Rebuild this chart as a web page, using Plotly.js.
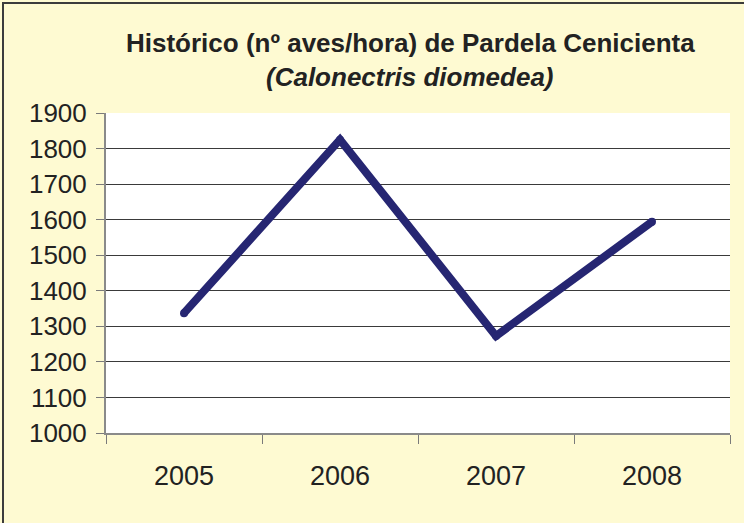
<!DOCTYPE html>
<html>
<head>
<meta charset="utf-8">
<script src="https://cdn.plot.ly/plotly-3.0.1.min.js"></script>
<style>
  html, body { margin: 0; padding: 0; background: #FEFAD2; }
  #wrap { position: relative; width: 744px; height: 523px; }
  #chart { width: 744px; height: 523px; }
  #frame { position: absolute; left: 2px; top: 2px; right: -10px; bottom: -10px;
           border-top: 2px solid #3c3c3c; border-left: 2px solid #3c3c3c; pointer-events: none; }
</style>
</head>
<body>
<div id="wrap">
  <div id="chart"></div>
  <div id="frame"></div>
</div>
<script>
const years = ["2005", "2006", "2007", "2008"];
const birdsPerHour = [1337, 1825, 1273, 1594];
const yTicks = [1000, 1100, 1200, 1300, 1400, 1500, 1600, 1700, 1800, 1900];
const titleLine1 = "Histórico (nº aves/hora) de Pardela Cenicienta";
const titleLine2 = "(Calonectris diomedea)";

const L = 106, R = 14, T = 113, B = 90, W = 744, H = 523;
const pw = W - L - R, ph = H - T - B;

const trace = {
  x: years,
  y: birdsPerHour,
  type: "scatter",
  mode: "lines+markers",
  line: { color: "#262672", width: 8 },
  marker: { color: "#262672", size: 8 },
  hoverinfo: "x+y"
};

const layout = {
  width: W, height: H,
  margin: { l: L, r: R, t: T, b: B, pad: 0 },
  paper_bgcolor: "#FEFAD2",
  plot_bgcolor: "#FFFFFF",
  showlegend: false,
  font: { family: "Liberation Sans, Arial, sans-serif", color: "#222222" },
  xaxis: {
    type: "category",
    range: [-0.5, 3.5],
    tickson: "boundaries",
    ticks: "outside",
    ticklen: 9,
    tickcolor: "#7a7a7a",
    showline: true,
    linecolor: "#8a8a8a",
    linewidth: 2,
    showgrid: false,
    tickfont: { size: 27, color: "#222222" },
    ticklabelstandoff: 18,
    fixedrange: true
  },
  yaxis: {
    range: [1000, 1900],
    tickvals: yTicks,
    ticktext: yTicks.map(String),
    ticks: "outside",
    ticklen: 8,
    tickcolor: "#7a7a7a",
    showline: true,
    linecolor: "#8a8a8a",
    linewidth: 2,
    showgrid: true,
    gridcolor: "#3a3a3a",
    gridwidth: 1,
    zeroline: false,
    tickfont: { size: 26, color: "#222222" },
    ticklabelstandoff: 4,
    fixedrange: true
  },
  annotations: [
    {
      text: "<b>" + titleLine1 + "</b>",
      xref: "paper", yref: "paper",
      x: (410 - L) / pw, y: 1 + (T - 43) / ph,
      xanchor: "center", yanchor: "middle",
      showarrow: false,
      font: { size: 26, color: "#222222", family: "Liberation Sans, Arial, sans-serif" }
    },
    {
      text: "<b><i>" + titleLine2 + "</i></b>",
      xref: "paper", yref: "paper",
      x: (410 - L) / pw, y: 1 + (T - 77) / ph,
      xanchor: "center", yanchor: "middle",
      showarrow: false,
      font: { size: 26, color: "#222222", family: "Liberation Sans, Arial, sans-serif" }
    }
  ]
};

Plotly.newPlot("chart", [trace], layout, { displayModeBar: false, staticPlot: true });
</script>
</body>
</html>
